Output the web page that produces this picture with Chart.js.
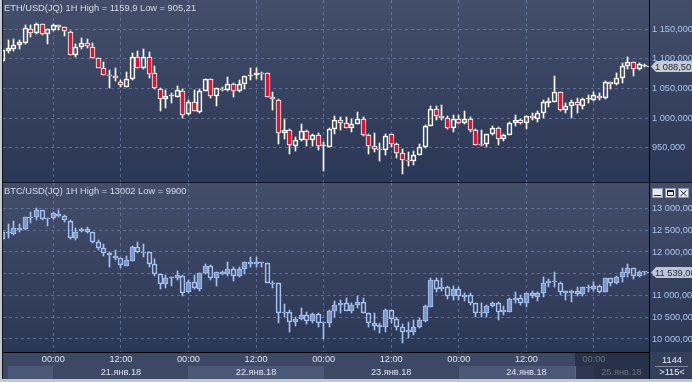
<!DOCTYPE html>
<html><head><meta charset="utf-8">
<script src="https://cdn.jsdelivr.net/npm/chart.js@4.4.1/dist/chart.umd.min.js"></script>
<style>
html,body{margin:0;padding:0;width:692px;height:382px;overflow:hidden;background:#10141c;}
#frameL{position:absolute;left:0;top:0;width:2px;height:382px;background:#c3c7ce;}
#frameB{position:absolute;left:0;top:379px;width:692px;height:3px;background:#c3c7ce;}
#c1{position:absolute;left:3px;top:0;width:689px;height:182px;}
#c2{position:absolute;left:3px;top:183px;width:689px;height:196px;}
</style></head><body>
<div id="frameL"></div><div id="frameB"></div>
<canvas id="c1" width="689" height="182"></canvas>
<canvas id="c2" width="689" height="196"></canvas>
<script>
// ---- categories: hourly candles, hour index relative to 21.янв.18 00:00 ----
const firstHour = -9; // 20.янв.18 15:00
const timeTickHours = [0, 12, 24, 36, 48, 60, 72, 84, 96];
const timeTickLabels = ['00:00','12:00','00:00','12:00','00:00','12:00','00:00','12:00','00:00'];
const dayLabels = ['21.янв.18','22.янв.18','23.янв.18','24.янв.18','25.янв.18'];
const dayStartHours = [0, 24, 48, 72, 96];
const barCountText = ['1144', '>115<'];

// ---- ETH/USD ----
const ethOpen = [1097,1114,1116,1123,1127.4,1150,1143,1159,1141.5,1149,1156.8,1153.4,1146,1106.6,1119.5,1126.3,1120.7,1100.9,1084,1072,1070.4,1060.3,1053,1065.4,1102.6,1084,1102.6,1075.5,1050,1031.5,1038,1036,1045.6,1006.7,1026.4,1010.6,1046.2,1065.4,1037.7,1049.6,1047.3,1056.8,1046.1,1056.8,1071,1072.7,1075.5,1075.5,1036,1030.3,975.6,980.7,953,963.7,977.8,962.6,972.2,953,951.3,982.4,997.6,992.5,984.1,990.8,999.3,972.2,953,948.5,945.7,973.9,957,941.2,929.9,927.1,938.3,951.3,986.3,1016.2,1004.4,1001,984.1,999.3,992.5,999.3,980.7,955.3,955.8,973.9,984.1,965.4,972.2,992.5,996.5,992,1004.4,999.3,1007.8,1024.7,1027.5,1043.3,1014.5,1020.2,1026.4,1020.2,1031.5,1030.3,1037.7,1033.2,1060.2,1057.4,1067,1087.9,1094.1,1082.2,1088];
const ethHigh = [1117,1132,1133,1132,1157.3,1157,1159.9,1159.5,1150,1159,1157,1154.5,1146.5,1126,1134.8,1133.6,1127.4,1101,1095,1081,1085,1064.2,1078,1109.4,1113.9,1116,1111,1088,1050.5,1047.3,1041.7,1054,1048.4,1030.4,1047.3,1048.4,1065.5,1066,1050.5,1052,1068.7,1058.5,1064.2,1071,1084,1084,1077.2,1076,1044.4,1031.5,999.3,981,968.2,990.8,980.7,973.9,975.6,959.8,982.5,1003.2,1002.1,1002.1,998.2,1010,1002.1,972.8,975,958.7,973.9,974,957.5,948.5,942.9,944.6,955.8,988,1020.2,1020.2,1021.9,1003.2,1005,1005,1011.7,1002.1,981,979.5,974,986.3,984.5,973.9,993.6,1005,999.3,1003.5,1007.8,1012.3,1030.3,1033.2,1071,1044.4,1024.7,1030.3,1034.8,1033.2,1038.8,1044.4,1041.6,1062.5,1061.4,1075.5,1092.4,1102.6,1094.5,1092.4,1090.7];
const ethLow = [1095,1110,1114,1117,1126,1136.5,1141.5,1140,1126,1147.7,1149,1139,1106,1102.6,1116,1117.8,1100.9,1084,1072.7,1051,1062.5,1051.8,1051.8,1065,1084,1083.5,1068,1050,1012.3,1017.4,1024.7,1034.9,1001,1006,1011.5,1009,1046,1033.2,1020.8,1046,1046.2,1036,1043.3,1048.4,1064.2,1065.3,1064.2,1036,1013.4,957,964.3,940,944.6,961.5,953,952.5,945.7,910.7,951,972.8,979.5,984,976.7,989.7,970,940,942.9,927.6,937.2,951.3,933.3,905.21,918.6,921.4,937.2,950,986,996.5,996.5,982.4,976.7,990.8,990.8,976.7,954.1,952.5,951.3,972.2,955.3,961.5,971.1,986.9,989.7,982.4,996.5,994.2,1001,1019,1027,1012.3,1007.8,1001,1009.4,1016.2,1024.7,1029.2,1030.3,1033,1048.4,1055.7,1059.7,1082.2,1071,1081.1,1086];
const ethClose = [1115,1118,1123.5,1128.6,1151.6,1143,1159,1141.5,1150,1157.3,1154.5,1146.6,1106.6,1120.7,1126.3,1121.8,1100.9,1084,1072.7,1071,1067,1055.8,1065.4,1102.6,1084,1102.6,1074.4,1050.1,1031.5,1037.7,1038.8,1047.3,1005,1026.4,1011.7,1046.2,1065.4,1037.7,1050.1,1047.3,1057.5,1046.1,1056.8,1071,1072.7,1075.5,1074,1036,1031.5,975.6,980.7,954.1,963.7,977.8,962.6,972.2,953,954,982.4,997.6,992.5,984.1,990.8,999.3,972.2,953,948.5,945.7,970.5,957,941.2,929.9,927.1,938.3,951.3,986.3,1016.2,1004.4,1001,984.1,999.3,992.5,999.3,980.7,955.3,955,973.9,984.1,965.4,972.2,992.5,996.5,992,1003.2,1000.4,1007.8,1026.4,1028.6,1043.3,1014.5,1020.2,1026.4,1021.9,1031.5,1031.6,1038.8,1033.2,1060.2,1057.4,1067,1087.9,1094.1,1082.2,1090.7,1088.5];

// ---- BTC/USD ----
const btcOpen = [12291,12467,12421,12505,12521,12797,12797,12965,12751,12774,12881,12835,12720,12314,12490,12521,12452,12222,12099,11969,11908,11854,11686,11793,12122,11969,11992,11716,11486,11264,11394,11394,11448,11073,11302,11149,11509,11678,11394,11548,11486,11609,11456,11601,11762,11724,11762,11740,11280,11280,10590,10628,10383,10460,10552,10421,10575,10375,10360,10644,10782,10820,10644,10782,10858,10590,10375,10322,10268,10667,10452,10284,10153,10153,10284,10421,10743,11356,11203,11203,10996,11142,11012,11012,10820,10590,10590,10758,10835,10628,10628,10897,10935,10835,11050,10973,11050,11280,11315,11295,11103,11065,11103,11027,11188,11142,11218,11088,11394,11280,11418,11525,11624,11456,11545];
const btcHigh = [12480,12636,12712,12636,12800,12927,13002,12970,12790,12912,12965,12850,12735,12544,12559,12582,12467,12276,12176,12007,12046,11870,11915,12138,12222,12176,12007,11839,11490,11471,11433,11563,11471,11356,11471,11509,11716,11701,11548,11563,11762,11663,11663,11762,11877,11877,11770,11745,11341,11285,10805,10667,10498,10705,10628,10590,10590,10398,10667,10881,10897,10935,10820,10996,10935,10595,10590,10360,10682,10672,10498,10345,10398,10437,10475,10781,11394,11394,11394,11218,11218,11188,11065,11050,10835,10820,10782,10858,10840,10758,10935,11088,11012,11050,11111,11088,11433,11371,11548,11300,11108,11127,11188,11203,11241,11318,11241,11410,11399,11448,11624,11724,11629,11571,11548];
const btcLow = [12280,12314,12391,12467,12515,12659,12735,12735,12605,12758,12812,12697,12299,12276,12467,12429,12199,12046,11908,11663,11816,11624,11680,11790,11969,11893,11663,11456,11149,11165,11226,11356,10996,11050,11149,11111,11486,11356,11226,11471,11456,11341,11433,11486,11647,11647,11647,11280,11165,10360,10498,10168,10299,10437,10345,10360,10268,10000,10268,10513,10605,10640,10605,10705,10590,10268,10207,10130,10168,10360,10207,9900,10015,10092,10245,10398,10743,11088,11111,10920,10896,10896,10881,10782,10498,10498,10513,10743,10437,10552,10613,10835,10782,10743,10935,10881,10958,11188,11203,11012,10897,10858,10988,10988,11088,11111,11065,11085,11218,11257,11318,11433,11372,11433,11471];
const btcClose = [12467,12429,12544,12544,12797,12790,12965,12751,12790,12889,12835,12728,12314,12467,12521,12452,12222,12099,11969,11931,11870,11701,11816,12122,11992,11992,11716,11486,11264,11394,11410,11471,11050,11302,11165,11509,11678,11394,11548,11486,11609,11456,11601,11762,11716,11762,11740,11280,11270,10590,10628,10398,10460,10552,10421,10575,10375,10380,10644,10782,10835,10644,10782,10858,10590,10375,10306,10268,10667,10452,10284,10153,10207,10284,10437,10758,11356,11149,11149,10996,11142,10988,10973,10820,10590,10598,10758,10835,10628,10667,10920,10935,10835,11050,10988,11050,11280,11333,11333,11073,11050,11103,11027,11188,11180,11218,11088,11394,11280,11433,11532,11624,11456,11548,11539];

// ---- axis ticks ----
const ethTicks = [950, 1000, 1050, 1100, 1150];
const btcTicks = [10000, 10500, 11000, 11500, 12000, 12500, 13000];

const FONT = "'Liberation Sans', Arial, sans-serif";
const FS = 9.2;
const GRID = 'rgba(120,140,182,0.6)';
const X_MIN = -8.93, X_MAX = 105.77;

function fmt(v, dec) {
  const s = v.toFixed(dec);
  const parts = s.split('.');
  const ip = parts[0].replace(/\B(?=(\d{3})+(?!\d))/g, ' ');
  return parts.length > 1 ? ip + ',' + parts[1] : ip;
}

// snap library-computed bar geometry to whole pixels so 1px wicks/borders stay crisp
const snapPlugin = {
  id: 'snap',
  beforeDatasetsDraw(chart) {
    chart.data.datasets.forEach((ds, di) => {
      chart.getDatasetMeta(di).data.forEach(el => {
        el.x = Math.floor(el.x) + 0.5;
        let y = Math.round(el.y), b = Math.round(el.base);
        if (di === 0 && Math.abs(y - b) < 1) b = y + 1;
        el.y = y; el.base = b;
      });
    });
  }
};

function panelPlugin(p) {
  return {
    id: 'panel_' + p.name,
    beforeDraw(chart) {
      const {ctx, width, chartArea} = chart;
      ctx.save();
      const g = ctx.createLinearGradient(0, 0, 0, chartArea.bottom);
      g.addColorStop(0, '#434f6a');
      g.addColorStop(0.5, '#36425f');
      g.addColorStop(1, '#2b3756');
      ctx.fillStyle = g;
      ctx.fillRect(0, 0, width, chartArea.bottom);
      if (p.strip) {
        const h = chart.height;
        ctx.fillStyle = '#3c4864';
        ctx.fillRect(0, chartArea.bottom, width, h - chartArea.bottom);
        const xs = chart.scales.x;
        const rowTop = chartArea.bottom + 14;
        ctx.fillStyle = '#4b5877';
        ctx.fillRect(5, rowTop, Math.round(xs.getPixelForValue(0)) - 5, h - rowTop);
        const a1 = Math.round(xs.getPixelForValue(24)), b1 = Math.round(xs.getPixelForValue(48));
        const a2 = Math.round(xs.getPixelForValue(72)), b2 = Math.round(xs.getPixelForValue(96));
        ctx.fillRect(a1, rowTop, b1 - a1, h - rowTop);
        ctx.fillRect(a2, rowTop, b2 - a2, h - rowTop);
        ctx.fillStyle = '#343f5a';
        ctx.fillRect(chartArea.right, chartArea.bottom, width - chartArea.right, h - chartArea.bottom);
      }
      ctx.restore();
    },
    afterDraw(chart) {
      const {ctx, width, chartArea} = chart;
      const ys = chart.scales.y, xs = chart.scales.x;
      ctx.save();
      ctx.font = '9.3px ' + FONT;
      ctx.fillStyle = '#d3dbea';
      ctx.textBaseline = 'middle';
      ctx.textAlign = 'left';
      ctx.fillText(p.title, 1, p.titleY);
      // last price line + label
      const last = p.close[p.close.length - 1];
      const ly = Math.round(ys.getPixelForValue(last)) + 0.5;
      const lx = Math.floor(xs.getPixelForValue(firstHour + p.close.length - 1)) + 3;
      ctx.strokeStyle = p.edge; ctx.lineWidth = 1;
      ctx.beginPath(); ctx.moveTo(lx, ly); ctx.lineTo(chartArea.right, ly); ctx.stroke();
      const bx = chartArea.right + 2;
      ctx.fillStyle = p.labelBg;
      ctx.beginPath();
      ctx.moveTo(bx, ly);
      ctx.lineTo(bx + 5, ly - 5.5);
      ctx.lineTo(width, ly - 5.5);
      ctx.lineTo(width, ly + 5.5);
      ctx.lineTo(bx + 5, ly + 5.5);
      ctx.closePath(); ctx.fill();
      ctx.fillStyle = '#262c38';
      ctx.font = '9.3px ' + FONT;
      ctx.fillText(p.lastLabel, bx + 4, ly + 0.5);
      if (p.strip) {
        const h = chart.height;
        ctx.font = FS + 'px ' + FONT;
        ctx.fillStyle = '#dde4f0';
        ctx.textAlign = 'center';
        const rowMid = chartArea.bottom + 20.5;
        dayLabels.forEach((d, i) => {
          const a = Math.max(xs.getPixelForValue(dayStartHours[i]), chartArea.left);
          const b = Math.min(xs.getPixelForValue(dayStartHours[i] + 24), chartArea.right);
          ctx.fillText(d, (a + b) / 2, rowMid);
        });
        const ox = Math.round(xs.getPixelForValue(92.7));
        ctx.fillStyle = 'rgba(28,35,54,0.62)';
        ctx.fillRect(ox, chartArea.bottom + 1, chartArea.right - ox, h - chartArea.bottom - 1);
        ctx.fillStyle = 'rgba(120,135,165,0.6)';
        ctx.fillRect(ox, chartArea.bottom + 14, 1, h - chartArea.bottom - 14);
        ctx.fillStyle = '#000';
        ctx.fillRect(chartArea.right, chartArea.bottom, 1, h - chartArea.bottom);
        // bar counter box
        ctx.fillStyle = '#7d889e';
        ctx.fillRect(chartArea.right + 6, chartArea.bottom + 14, 33, 1);
        ctx.font = FS + 'px ' + FONT;
        ctx.textAlign = 'center';
        ctx.textBaseline = 'middle';
        ctx.fillStyle = '#e6ebf4';
        const cx = Math.round((chartArea.right + width) / 2) + 1;
        ctx.fillText(barCountText[0], cx, chartArea.bottom + 8);
        ctx.fillText(barCountText[1], cx, chartArea.bottom + 20.5);
        // window buttons
        const bxs = [chartArea.right + 3, chartArea.right + 16, chartArea.right + 29];
        bxs.forEach((x, i) => {
          ctx.fillStyle = '#e4e7ee';
          ctx.fillRect(x, 5, 11, 10);
          ctx.strokeStyle = '#8e96a6'; ctx.lineWidth = 1;
          ctx.strokeRect(x + 0.5, 5.5, 10, 9);
          ctx.strokeStyle = '#1d222c';
          ctx.beginPath();
          if (i === 0) { ctx.moveTo(x + 2, 12.5); ctx.lineTo(x + 9, 12.5); }
          if (i === 1) { ctx.rect(x + 2.5, 7.5, 6, 5); ctx.moveTo(x + 2.5, 8.5); ctx.lineTo(x + 8.5, 8.5); }
          if (i === 2) { ctx.moveTo(x + 2.5, 7.5); ctx.lineTo(x + 8.5, 13); ctx.moveTo(x + 8.5, 7.5); ctx.lineTo(x + 2.5, 13); }
          ctx.stroke();
        });
      }
      ctx.restore();
    }
  };
}

function makeChart(canvasId, p) {
  const xs = p.open.map((_, i) => i + firstHour);
  const isUp = i => p.close[i] >= p.open[i];
  const body = xs.map((x, i) => ({x, y: [p.open[i], p.close[i]]}));
  const upper = xs.map((x, i) => ({x, y: [Math.max(p.open[i], p.close[i]), p.high[i]]}));
  const lower = xs.map((x, i) => ({x, y: [p.low[i], Math.min(p.open[i], p.close[i])]}));
  return new Chart(document.getElementById(canvasId), {
    type: 'bar',
    data: { datasets: [
      { data: body, grouped: false, barThickness: 5, borderWidth: 1, borderSkipped: false, minBarLength: 1,
        borderColor: p.edge, backgroundColor: c => isUp(c.dataIndex) ? p.upFill : p.downFill },
      { data: upper, grouped: false, barThickness: 1, borderWidth: 0, backgroundColor: p.edge },
      { data: lower, grouped: false, barThickness: 1, borderWidth: 0, backgroundColor: p.edge }
    ]},
    options: {
      responsive: false, animation: false, events: [],
      layout: { padding: 0 },
      plugins: { legend: { display: false }, tooltip: { enabled: false }, title: { display: false } },
      scales: {
        x: {
          type: 'linear', min: X_MIN, max: X_MAX, offset: false,
          afterBuildTicks: s => { s.ticks = timeTickHours.map(v => ({value: v})); },
          afterFit: s => { s.height = p.xAxisH; s.paddingLeft = 0; s.paddingRight = 0; },
          grid: { color: GRID, lineWidth: 1, drawTicks: false, offset: false },
          border: { display: p.strip, color: '#000', width: 1, dash: [3, 3] },
          ticks: { display: p.strip, autoSkip: false, maxRotation: 0, padding: 2, color: '#dde4f0',
                   font: { size: FS, family: FONT },
                   callback: v => timeTickLabels[timeTickHours.indexOf(v)] }
        },
        y: {
          position: 'right', min: p.yMin, max: p.yMax, beginAtZero: false,
          afterBuildTicks: s => { s.ticks = p.yTicks.map(v => ({value: v})); },
          afterFit: s => { s.width = 43; s.paddingTop = 0; s.paddingBottom = 0; },
          grid: { color: GRID, lineWidth: 1, drawTicks: false },
          border: { display: true, color: '#000', width: 1, dash: [3, 3] },
          ticks: { padding: 3, color: '#aac6ef', font: { size: FS, family: FONT },
                   callback: v => fmt(v, p.dec) }
        }
      }
    },
    plugins: [snapPlugin, panelPlugin(p)]
  });
}

makeChart('c1', {
  name: 'eth', open: ethOpen, high: ethHigh, low: ethLow, close: ethClose,
  yMin: 892.1, yMax: 1199.5, yTicks: ethTicks, dec: 3, xAxisH: 0, strip: false,
  edge: '#ffffff', upFill: 'rgba(0,0,0,0)', downFill: '#e3132f',
  title: 'ETH/USD(JQ) 1H High = 1159,9 Low = 905,21', titleY: 8.5,
  lastLabel: '1 088,50', labelBg: '#c6cad3'
});
makeChart('c2', {
  name: 'btc', open: btcOpen, high: btcHigh, low: btcLow, close: btcClose,
  yMin: 9701, yMax: 13586, yTicks: btcTicks, dec: 2, xAxisH: 27, strip: true,
  edge: '#a6c1ee', upFill: '#7f98c9', downFill: 'rgba(0,0,0,0)',
  title: 'BTC/USD(JQ) 1H High = 13002 Low = 9900', titleY: 8.5,
  lastLabel: '11 539,00', labelBg: '#bcc6d8'
});
</script>
</body></html>
